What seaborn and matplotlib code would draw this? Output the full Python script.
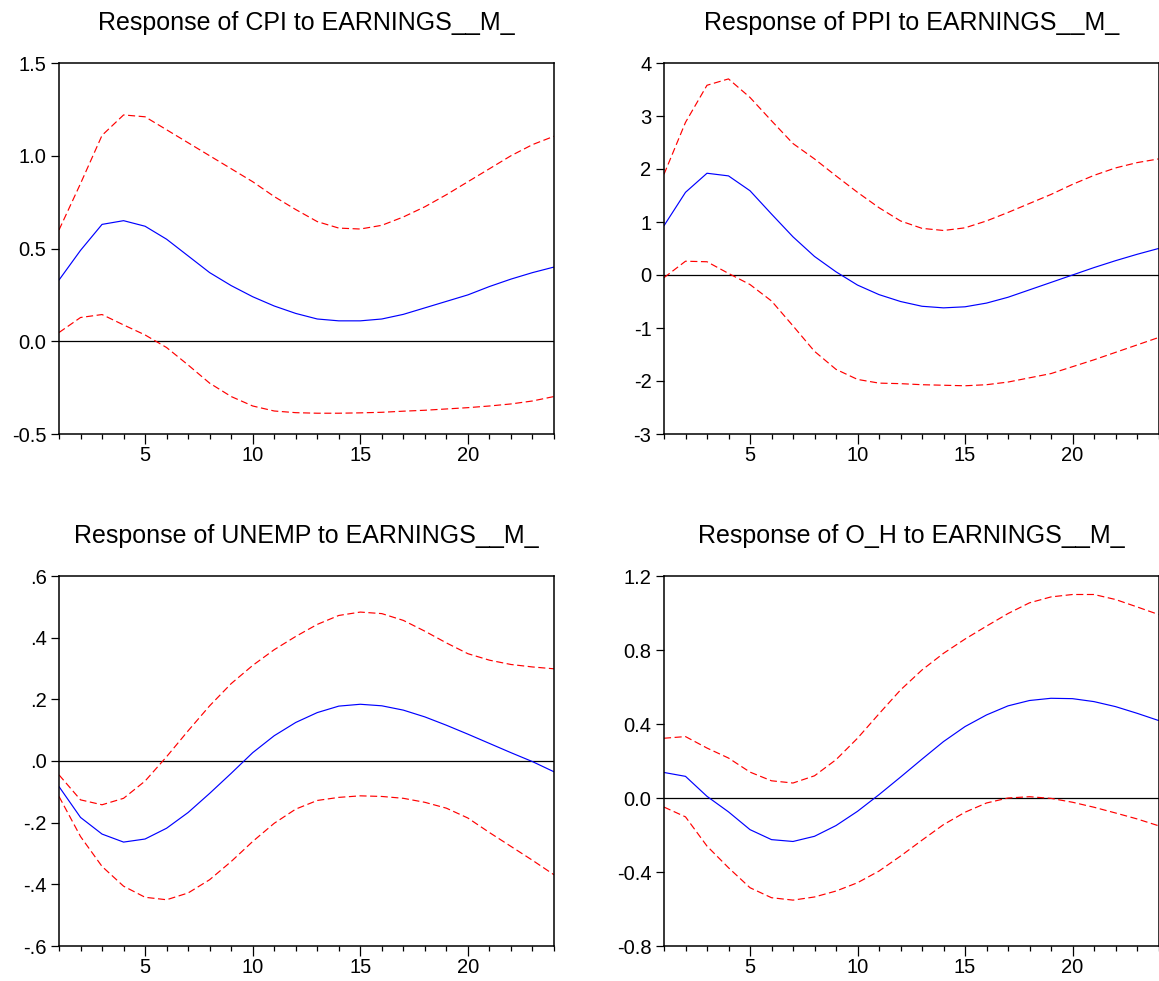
import numpy as np
import pandas as pd
import matplotlib
matplotlib.use('Agg')
import matplotlib.pyplot as plt
from matplotlib.ticker import FixedLocator, FuncFormatter
import seaborn as sns

# impulse responses to EARNINGS__M_ shock, periods 1..24
periods = list(range(1, 25))

cpi_resp = [0.33, 0.49, 0.63, 0.65, 0.62, 0.55, 0.46, 0.37, 0.30, 0.24, 0.19, 0.15,
            0.12, 0.11, 0.11, 0.12, 0.145, 0.18, 0.215, 0.25, 0.295, 0.335, 0.37, 0.40]
cpi_upper = [0.60, 0.85, 1.11, 1.22, 1.21, 1.14, 1.07, 1.00, 0.93, 0.86, 0.78, 0.71,
             0.645, 0.61, 0.605, 0.625, 0.67, 0.725, 0.79, 0.86, 0.93, 1.00, 1.06, 1.105]
cpi_lower = [0.047, 0.128, 0.144, 0.088, 0.034, -0.034, -0.128, -0.226, -0.298, -0.349, -0.376, -0.385,
             -0.388, -0.388, -0.386, -0.383, -0.377, -0.372, -0.365, -0.358, -0.349, -0.338, -0.322, -0.298]

ppi_resp = [0.93, 1.56, 1.92, 1.87, 1.59, 1.15, 0.72, 0.35, 0.06, -0.19, -0.37, -0.50,
            -0.59, -0.62, -0.60, -0.53, -0.42, -0.28, -0.14, 0.0, 0.14, 0.27, 0.39, 0.50]
ppi_upper = [1.90, 2.88, 3.58, 3.70, 3.35, 2.91, 2.48, 2.19, 1.87, 1.56, 1.27, 1.02,
             0.88, 0.84, 0.89, 1.02, 1.18, 1.35, 1.52, 1.71, 1.88, 2.02, 2.12, 2.19]
ppi_lower = [-0.05, 0.26, 0.25, 0.03, -0.18, -0.49, -0.96, -1.44, -1.78, -1.97, -2.04, -2.05,
             -2.07, -2.08, -2.09, -2.07, -2.02, -1.94, -1.86, -1.73, -1.60, -1.46, -1.32, -1.18]

unemp_resp = [-0.083, -0.183, -0.237, -0.263, -0.253, -0.218, -0.167, -0.105, -0.040, 0.027, 0.082, 0.125,
              0.157, 0.178, 0.184, 0.179, 0.165, 0.143, 0.116, 0.087, 0.057, 0.027, -0.002, -0.035]
unemp_upper = [-0.045, -0.126, -0.142, -0.121, -0.065, 0.014, 0.098, 0.179, 0.251, 0.31, 0.361, 0.404,
               0.443, 0.472, 0.483, 0.478, 0.456, 0.421, 0.383, 0.348, 0.327, 0.313, 0.305, 0.299]
unemp_lower = [-0.115, -0.245, -0.342, -0.406, -0.442, -0.450, -0.428, -0.385, -0.326, -0.261, -0.202, -0.156,
               -0.128, -0.118, -0.113, -0.115, -0.121, -0.134, -0.153, -0.185, -0.232, -0.277, -0.322, -0.369]

oh_resp = [0.138, 0.117, 0.009, -0.075, -0.171, -0.225, -0.235, -0.207, -0.149, -0.072, 0.018, 0.113,
           0.21, 0.305, 0.386, 0.449, 0.498, 0.527, 0.539, 0.537, 0.521, 0.494, 0.458, 0.419]
oh_upper = [0.323, 0.332, 0.27, 0.216, 0.14, 0.093, 0.081, 0.12, 0.207, 0.323, 0.455, 0.584,
            0.692, 0.782, 0.859, 0.929, 0.997, 1.055, 1.087, 1.10, 1.10, 1.073, 1.033, 0.992]
oh_lower = [-0.049, -0.102, -0.26, -0.377, -0.485, -0.539, -0.552, -0.535, -0.503, -0.458, -0.395, -0.314,
            -0.228, -0.144, -0.077, -0.027, 0.0, 0.007, -0.002, -0.023, -0.05, -0.081, -0.113, -0.15]

titles = ['Response of CPI to EARNINGS__M_', 'Response of PPI to EARNINGS__M_',
          'Response of UNEMP to EARNINGS__M_', 'Response of O_H to EARNINGS__M_']


def fmt_one_dec(v, pos):
    return f'{v:.1f}'


def fmt_int(v, pos):
    return f'{v:.0f}'


def fmt_no_lead(v, pos):
    s = f'{v:.1f}'
    return s.replace('0.', '.', 1)


panels = [
    (cpi_resp, cpi_upper, cpi_lower, (-0.5, 1.5), [-0.5, 0.0, 0.5, 1.0, 1.5], fmt_one_dec),
    (ppi_resp, ppi_upper, ppi_lower, (-3, 4), [-3, -2, -1, 0, 1, 2, 3, 4], fmt_int),
    (unemp_resp, unemp_upper, unemp_lower, (-0.6, 0.6), [-0.6, -0.4, -0.2, 0.0, 0.2, 0.4, 0.6], fmt_no_lead),
    (oh_resp, oh_upper, oh_lower, (-0.8, 1.2), [-0.8, -0.4, 0.0, 0.4, 0.8, 1.2], fmt_one_dec),
]

# axes rectangles in pixels (left, top, right, bottom) of the 1159x981 canvas
W, H = 1159, 981
rects = [(59, 63, 554, 434), (664, 63, 1158.5, 434),
         (59, 576, 554, 946), (664, 576, 1158.5, 946)]

sns.set_style('ticks')
plt.rcParams['font.family'] = ['Liberation Sans', 'DejaVu Sans']
plt.rcParams['axes.unicode_minus'] = False
plt.rcParams['text.color'] = 'black'
plt.rcParams['axes.titlecolor'] = 'black'
plt.rcParams['xtick.labelcolor'] = 'black'
plt.rcParams['ytick.labelcolor'] = 'black'

fig = plt.figure(figsize=(W / 100, H / 100), dpi=100)

for (resp, upper, lower, ylim, yticks, fmt), title, (l, t, r, b) in zip(panels, titles, rects):
    ax = fig.add_axes([l / W, 1 - b / H, (r - l) / W, (b - t) / H])
    ax.axhline(0, color='black', lw=0.9, zorder=1)
    sns.lineplot(x=periods, y=upper, color='red', lw=0.85, linestyle=(0, (6, 3)), ax=ax)
    sns.lineplot(x=periods, y=lower, color='red', lw=0.85, linestyle=(0, (6, 3)), ax=ax)
    sns.lineplot(x=periods, y=resp, color='blue', lw=0.85, ax=ax)

    ax.set_xlim(1, 24)
    ax.set_ylim(*ylim)
    ax.xaxis.set_major_locator(FixedLocator([5, 10, 15, 20]))
    ax.xaxis.set_minor_locator(FixedLocator(periods))
    ax.yaxis.set_major_locator(FixedLocator(yticks))
    ax.yaxis.set_major_formatter(FuncFormatter(fmt))
    ax.tick_params(axis='x', which='major', length=7, width=0.9, pad=1.5, labelsize=14.5,
                   color='black', labelcolor='black')
    ax.tick_params(axis='x', which='minor', length=3.6, width=0.9, color='black')
    ax.tick_params(axis='y', which='major', length=6, width=0.9, pad=3, labelsize=14.5,
                   color='black', labelcolor='black')
    for sp in ax.spines.values():
        sp.set_color('black')
        sp.set_linewidth(1.1)
    ax.set_title(title, fontsize=18, pad=24, color='black')
    ax.set_xlabel(None)
    ax.set_ylabel(None)

fig.savefig('out.png', dpi=100)
